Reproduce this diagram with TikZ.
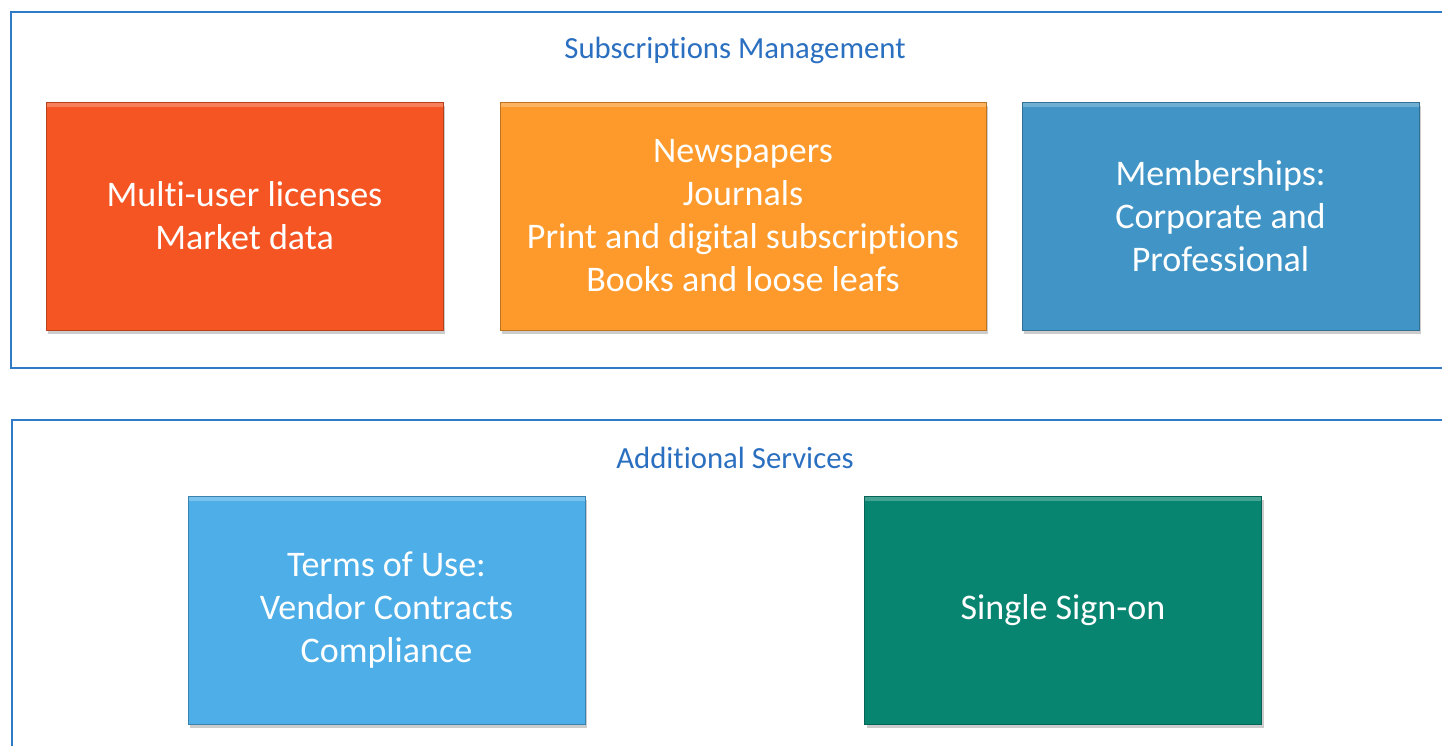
\documentclass[tikz,border=0pt]{standalone}
\usepackage{fontspec}
\setmainfont{Carlito}[Ligatures=NoCommon]
\usetikzlibrary{positioning, shadows}
\definecolor{framecol}{HTML}{2F7BC8}
\definecolor{titlecol}{HTML}{2A6FC0}
\definecolor{redbox}{HTML}{F55523}
\definecolor{orangebox}{HTML}{FD9A2B}
\definecolor{bluebox}{HTML}{4195C6}
\definecolor{skybox}{HTML}{4DAEE8}
\definecolor{tealbox}{HTML}{078571}

\begin{document}
\begin{tikzpicture}[x=0.02cm, y=-0.02cm,
  tile/.style={rectangle, minimum width=7.94cm, minimum height=4.56cm,
    align=center, text=white, draw=#1!75!black, fill=#1,
    font=\fontsize{20.5}{24.5}\selectfont,
    drop shadow={opacity=0.4, shadow xshift=1.2pt, shadow yshift=-2.5pt},
    path picture={\fill[white, opacity=0.25] (path picture bounding box.north west)
      rectangle ([yshift=-3pt]path picture bounding box.north east);}},
  heading/.style={text=titlecol, font=\fontsize{17.5}{20}\selectfont},
  frame/.style={draw=framecol, line width=1.1pt}]
\clip (0,0) rectangle (1442,746);

% frames
\draw[frame] (11,12) rectangle (1470,368) ;
\draw[frame] (12,420) rectangle (1470,780) ;

\node[heading] at (735,50) (subs) {Subscriptions Management} ;
\node[heading] at (735,458) (extra) {Additional Services} ;

% top row
\node[tile=redbox] at (244.5,216) (licenses) {Multi-user licenses\\Market data} ;
\node[tile=orangebox, minimum width=9.72cm] at (743,216) (press) {Newspapers\\Journals\\Print and digital subscriptions\\Books and loose leafs} ;
\node[tile=bluebox] at (1220.5,216) (members) {Memberships:\\Corporate and\\Professional} ;

% bottom row
\node[tile=skybox] at (386.5,610) (terms) {Terms of Use:\\Vendor Contracts\\Compliance} ;
\node[tile=tealbox] at (1063,610) (sso) {Single Sign-on} ;
\end{tikzpicture}
\end{document}
